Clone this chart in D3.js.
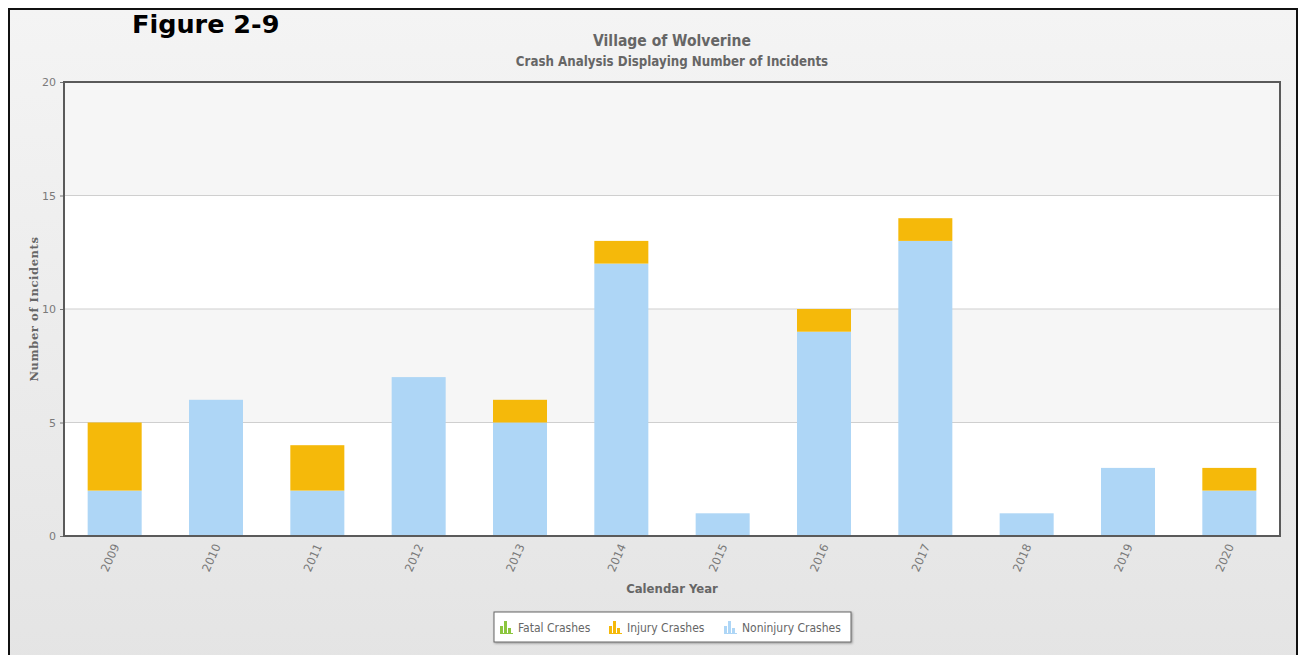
<!DOCTYPE html>
<html><head><meta charset="utf-8">
<script src="https://cdn.jsdelivr.net/npm/d3@7"></script>
<style>html,body{margin:0;padding:0;background:#fff;}svg{display:block;}</style>
</head><body>
<svg id="c" width="1299" height="655"></svg>
<script>
const years = ["2009","2010","2011","2012","2013","2014","2015","2016","2017","2018","2019","2020"];
const fatal = [0,0,0,0,0,0,0,0,0,0,0,0];
const injury = [3,0,2,0,1,1,0,1,1,0,0,1];
const noninjury = [2,6,2,7,5,12,1,9,13,1,3,2];
const yTicks = [0,5,10,15,20];
const seriesNames = ["Fatal Crashes","Injury Crashes","Noninjury Crashes"];
const seriesColors = ["#8cc63f","#f5b90a","#aed6f6"];

const svg = d3.select("#c");
const defs = svg.append("defs");
const g1 = defs.append("linearGradient").attr("id","bg").attr("x1",0).attr("y1",0).attr("x2",0).attr("y2",1);
g1.append("stop").attr("offset","0").attr("stop-color","#f4f4f4");
g1.append("stop").attr("offset","1").attr("stop-color","#e4e4e4");
const sh = defs.append("filter").attr("id","sh").attr("x","-5%").attr("y","-20%").attr("width","110%").attr("height","150%");
sh.append("feDropShadow").attr("dx",1).attr("dy",1).attr("stdDeviation",1.2).attr("flood-color","#000").attr("flood-opacity",0.35);

// outer frame
svg.append("rect").attr("x",9).attr("y",9).attr("width",1288).attr("height",660)
  .attr("fill","url(#bg)").attr("stroke","#111").attr("stroke-width",2);

const L=64, T=82, R=1280, B=536;
const x = d3.scaleBand().domain(years).range([L,R]).paddingInner(0.467).paddingOuter(0.2335);
const y = d3.scaleLinear().domain([0,20]).range([B,T]);

// bands
const bandCols = ["#ffffff","#f6f6f6","#ffffff","#f6f6f6"];
for (let i=0;i<4;i++){
  svg.append("rect").attr("x",L).attr("width",R-L)
    .attr("y",y(yTicks[i+1])).attr("height",y(yTicks[i])-y(yTicks[i+1]))
    .attr("fill",bandCols[i]);
}
// gridlines
svg.append("g").selectAll("line").data(yTicks.slice(1,4)).join("line")
  .attr("x1",L).attr("x2",R).attr("y1",d=>y(d)).attr("y2",d=>y(d))
  .attr("stroke","#cfcfcf").attr("stroke-width",1);

// stacked bars
const rows = years.map((yr,i)=>({year:yr, noninjury:noninjury[i], injury:injury[i], fatal:fatal[i]}));
const stack = d3.stack().keys(["noninjury","injury","fatal"])(rows);
const colorFor = {noninjury:seriesColors[2], injury:seriesColors[1], fatal:seriesColors[0]};
svg.append("g").selectAll("g").data(stack).join("g")
  .attr("fill",d=>colorFor[d.key])
  .selectAll("rect").data(d=>d).join("rect")
  .attr("x",d=>x(d.data.year)).attr("width",x.bandwidth())
  .attr("y",d=>y(d[1])).attr("height",d=>y(d[0])-y(d[1]));

// plot border
svg.append("rect").attr("x",L).attr("y",T).attr("width",R-L).attr("height",B-T)
  .attr("fill","none").attr("stroke","#5a5a5a").attr("stroke-width",2);

// y axis
const yAxis = d3.axisLeft(y).tickValues(yTicks).tickSize(3).tickPadding(4);
const ya = svg.append("g").attr("transform",`translate(${L-1},0)`).call(yAxis);
ya.select(".domain").remove();
ya.selectAll("line").attr("stroke","#777");
ya.selectAll("text").attr("font-family","'DejaVu Sans', Verdana, sans-serif").attr("font-size",11).attr("fill","#7a7a7a");

// x axis
const xAxis = d3.axisBottom(x).tickSize(0).tickPadding(0);
const xa = svg.append("g").attr("transform",`translate(0,${B})`).call(xAxis);
xa.select(".domain").remove();
xa.selectAll("text").attr("font-family","'DejaVu Sans', Verdana, sans-serif").attr("font-size",11.5).attr("fill","#7a7a7a")
  .attr("text-anchor","end").attr("dy",0).attr("y",0)
  .attr("transform","translate(5,10) rotate(-66)");

// titles
svg.append("text").attr("x",132).attr("y",33).text("Figure 2-9")
  .attr("font-family","'DejaVu Sans', sans-serif").attr("font-weight","bold").attr("font-size",25.5).attr("fill","#000");
svg.append("text").attr("x",672).attr("y",46).attr("text-anchor","middle").text("Village of Wolverine")
  .attr("font-family","'DejaVu Sans Condensed','DejaVu Sans', sans-serif").attr("font-weight","bold").attr("font-size",15.5).attr("fill","#666");
svg.append("text").attr("x",672).attr("y",66).attr("text-anchor","middle").text("Crash Analysis Displaying Number of Incidents")
  .attr("font-family","'DejaVu Sans Condensed','DejaVu Sans', sans-serif").attr("font-weight","bold").attr("font-size",13.2).attr("fill","#666");

// axis titles
svg.append("text").attr("transform",`translate(38,${(T+B)/2}) rotate(-90)`).attr("text-anchor","middle")
  .text("Number of Incidents").attr("font-family","'DejaVu Serif', serif").attr("font-weight","bold")
  .attr("font-size",11.5).attr("letter-spacing",0.6).attr("fill","#666");
svg.append("text").attr("x",672).attr("y",593).attr("text-anchor","middle").text("Calendar Year")
  .attr("font-family","'DejaVu Sans Condensed','DejaVu Sans', sans-serif").attr("font-weight","bold").attr("font-size",13).attr("fill","#666");

// legend
const lg = svg.append("g");
lg.append("rect").attr("x",494).attr("y",612).attr("width",357).attr("height",30)
  .attr("fill","#fff").attr("stroke","#666").attr("stroke-width",1).attr("filter","url(#sh)");
const itemX = [500,609,724];
seriesNames.forEach((nm,i)=>{
  const gx = lg.append("g").attr("transform",`translate(${itemX[i]},621)`);
  const c = seriesColors[i];
  gx.append("rect").attr("x",0).attr("y",5).attr("width",3).attr("height",7).attr("fill",c);
  gx.append("rect").attr("x",4).attr("y",0).attr("width",3).attr("height",12).attr("fill",c);
  gx.append("rect").attr("x",8).attr("y",7).attr("width",3).attr("height",5).attr("fill",c);
  gx.append("rect").attr("x",0).attr("y",12).attr("width",13).attr("height",1).attr("fill",c);
  lg.append("text").attr("x",itemX[i]+18).attr("y",632).text(nm)
    .attr("font-family","'DejaVu Sans Condensed','DejaVu Sans', sans-serif").attr("font-size",12).attr("fill","#666");
});
</script>
</body></html>
